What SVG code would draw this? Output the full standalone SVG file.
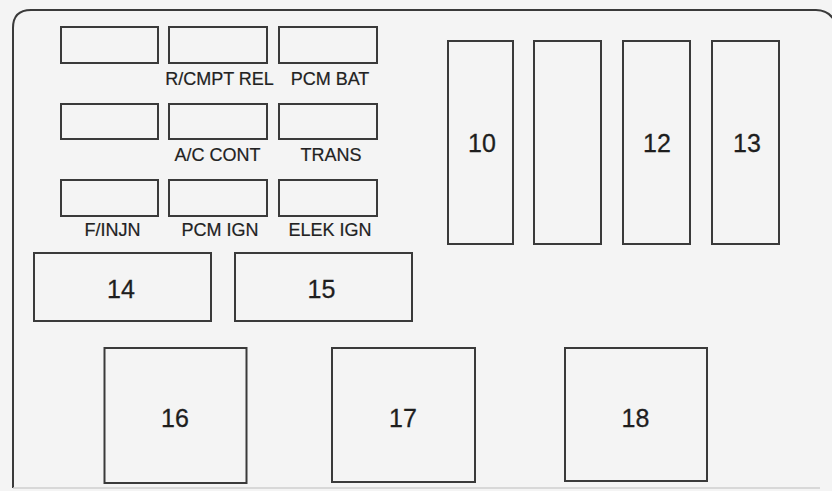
<svg xmlns="http://www.w3.org/2000/svg" width="832" height="491" viewBox="0 0 832 491">
<style>
.box{fill:none;stroke:#3a3a3a;stroke-width:2}
.lbl{font-family:"Liberation Sans",Arial,sans-serif;font-size:18px;fill:#222;text-anchor:middle;stroke:#222;stroke-width:0.2}
.num{font-family:"Liberation Sans",Arial,sans-serif;font-size:25px;fill:#1e1e1e;text-anchor:middle;stroke:#1e1e1e;stroke-width:0.3}
</style>
<rect x="0" y="0" width="832" height="491" fill="#f4f4f4"/>
<g id="frame">
<path d="M13,488 L13,28 Q13,10 31,10 L816,10 Q828,10 834,20" fill="none" stroke="#3a3a3a" stroke-width="2"/>
<path d="M13,488 L820,488" fill="none" stroke="#cfcfcf" stroke-width="1.5"/>
</g>
<g id="fuse-1"><rect class="box" x="61" y="27" width="97" height="36"/></g>
<g id="fuse-rcmpt-rel"><rect class="box" x="169" y="27" width="98" height="36"/><text class="lbl" x="219.5" y="85">R/CMPT REL</text></g>
<g id="fuse-pcm-bat"><rect class="box" x="279" y="27" width="98" height="36"/><text class="lbl" x="330" y="85">PCM BAT</text></g>
<g id="fuse-4"><rect class="box" x="61" y="104" width="97" height="35"/></g>
<g id="fuse-ac-cont"><rect class="box" x="169" y="104" width="98" height="35"/><text class="lbl" x="217.5" y="161">A/C CONT</text></g>
<g id="fuse-trans"><rect class="box" x="279" y="104" width="98" height="35"/><text class="lbl" x="331" y="161">TRANS</text></g>
<g id="fuse-finjn"><rect class="box" x="61" y="180" width="97" height="36"/><text class="lbl" x="112.5" y="236">F/INJN</text></g>
<g id="fuse-pcm-ign"><rect class="box" x="169" y="180" width="98" height="36"/><text class="lbl" x="220" y="236">PCM IGN</text></g>
<g id="fuse-elek-ign"><rect class="box" x="279" y="180" width="98" height="36"/><text class="lbl" x="330" y="236">ELEK IGN</text></g>
<g id="relay-10"><rect class="box" x="448" y="41" width="65" height="203"/><text class="num" x="482" y="152">10</text></g>
<g id="relay-11"><rect class="box" x="534" y="41" width="67" height="203"/></g>
<g id="relay-12"><rect class="box" x="623" y="41" width="67" height="203"/><text class="num" x="657" y="152">12</text></g>
<g id="relay-13"><rect class="box" x="712" y="41" width="67" height="203"/><text class="num" x="747" y="152">13</text></g>
<g id="relay-14"><rect class="box" x="34" y="253" width="177" height="68"/><text class="num" x="121" y="298">14</text></g>
<g id="relay-15"><rect class="box" x="235" y="253" width="177" height="68"/><text class="num" x="321.5" y="298">15</text></g>
<g id="relay-16"><rect class="box" x="104.5" y="348" width="142" height="135"/><text class="num" x="175" y="427">16</text></g>
<g id="relay-17"><rect class="box" x="332" y="348" width="143" height="134"/><text class="num" x="403" y="427">17</text></g>
<g id="relay-18"><rect class="box" x="565" y="348" width="142" height="133"/><text class="num" x="635.5" y="427">18</text></g>
<g id="connectors"></g>
</svg>
